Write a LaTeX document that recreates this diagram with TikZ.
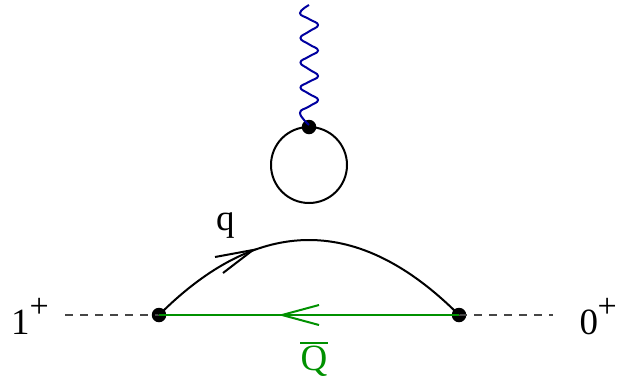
\documentclass[tikz,border=0pt]{standalone}
\usepackage{fontspec}
\setmainfont{Liberation Serif}
\definecolor{gluon}{RGB}{0,0,160}
\definecolor{quark}{RGB}{0,145,0}
\definecolor{dashgray}{RGB}{70,70,70}
\newcommand{\supplus}{\raisebox{16.5pt}{\fontsize{34pt}{34pt}\selectfont +}}
\tikzset{
  vertexdot/.style={circle,fill=black,inner sep=0pt,minimum size=14.5pt},
  line/.style={black,line width=2pt},
  greenline/.style={quark,line width=2pt},
  wave/.style={gluon,line width=2pt},
  ext/.style={dashgray,line width=1.3pt,dash pattern=on 7.7pt off 7.3pt},
  lab/.style={inner sep=0pt,anchor=base west,font=\fontsize{37pt}{37pt}\selectfont}
}
\begin{document}
\begin{tikzpicture}[x=1pt,y=-1pt]
\useasboundingbox (0,0) rectangle (617,381);
\fill[white] (0,0) rectangle (617,381);
\coordinate (lext) at (65,315);
\coordinate (rext) at (553,315);
\coordinate (atip) at (253,250);
\coordinate (abar1) at (215,257);
\coordinate (abar2) at (223,273);
\coordinate (gtip) at (282,315);
\coordinate (gbar1) at (319,305);
\coordinate (gbar2) at (319,325);
\node[vertexdot] (vl) at (159,315) {};
\node[vertexdot] (vr) at (459,315) {};
\node[vertexdot] (vt) at (309,127) {};
\node[circle,draw=black,line width=2pt,inner sep=0pt,minimum size=76pt] (loop) at (309,165) {};
\draw[ext] (lext) -- (vl.center);
\draw[ext] (vr.center) -- (rext);
\draw[line] (vl.center) .. controls (259,215) and (359,215) .. (vr.center);
\draw[line] (abar1) -- (atip) -- (abar2);
\draw[greenline] (vr.center) -- (vl.center);
\draw[greenline] (gbar1) -- (gtip) -- (gbar2);
\draw[wave] plot[smooth,tension=0.8] coordinates {(309,125) (300,113) (309,106.5) (318,100) (309,93.8) (300.5,87.5) (309,81.8) (318,76) (309,69.3) (300.5,62.5) (309,56.5) (318,50.5) (309,44.3) (300.5,38) (309,31.5) (318,25) (309,19) (300,13) (309,5)};
\node[lab] (one) at (11,334) {1\supplus};
\node[lab] (zero) at (579.5,334) {0\hspace{-0.5pt}\supplus};
\node[lab] (q) at (216,230.5) {q};
\node[lab,text=quark] (qbar) at (300.5,370.5) {\rlap{\hspace{-0.5pt}\raisebox{27pt}{\rule{28pt}{1.3pt}}}Q};
\end{tikzpicture}
\end{document}
